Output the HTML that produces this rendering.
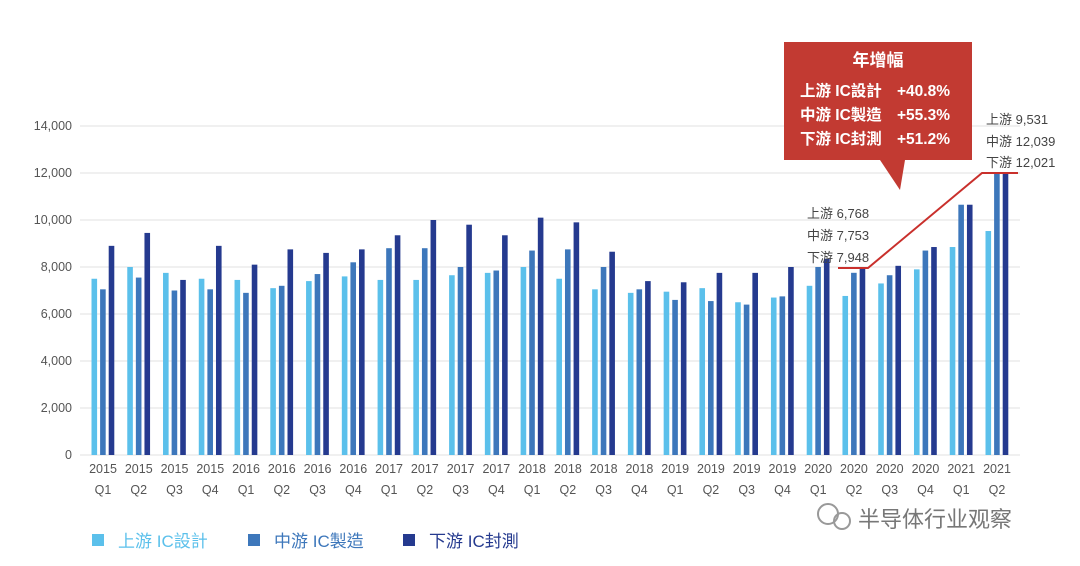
<!DOCTYPE html>
<html><head><meta charset="utf-8"><style>
body{margin:0;background:#fff;}
svg{display:block;font-family:"Liberation Sans","Noto Sans CJK TC",sans-serif;}
</style></head><body>
<svg width="1080" height="566" viewBox="0 0 1080 566">
<g id="grid" stroke="#e2e2e2" stroke-width="1"></g>
<g id="bars"></g>
<g id="labels" font-size="12.5" fill="#555"></g>
<polyline points="838,268 868,268 982,173 1018,173" fill="none" stroke="#c9302c" stroke-width="2"/>
<path d="M784,42 H972 V160 H905 L900,190 L880,160 H784 Z" fill="#c23a32"/>
<g fill="#fff" font-size="15.5" font-weight="bold">
<text x="878" y="66" text-anchor="middle" font-size="17">年增幅</text>
<text x="800" y="96">上游 IC設計</text><text x="897" y="96">+40.8%</text>
<text x="800" y="120">中游 IC製造</text><text x="897" y="120">+55.3%</text>
<text x="800" y="144">下游 IC封測</text><text x="897" y="144">+51.2%</text>
</g>
<g font-size="13" fill="#444">
<text x="807" y="218">上游 6,768</text>
<text x="807" y="240">中游 7,753</text>
<text x="807" y="262">下游 7,948</text>
<text x="986" y="124">上游 9,531</text>
<text x="986" y="146">中游 12,039</text>
<text x="986" y="167">下游 12,021</text>
</g>
<g font-size="17">
<rect x="92" y="534" width="12" height="12" fill="#5bc0eb"/><text x="118" y="547" fill="#5bc0eb">上游 IC設計</text>
<rect x="248" y="534" width="12" height="12" fill="#3d77bb"/><text x="274" y="547" fill="#3d77bb">中游 IC製造</text>
<rect x="403" y="534" width="12" height="12" fill="#253a8f"/><text x="429" y="547" fill="#253a8f">下游 IC封測</text>
</g>
<g><circle cx="828" cy="514" r="10" fill="none" stroke="#999" stroke-width="2"/><circle cx="842" cy="521" r="8" fill="none" stroke="#999" stroke-width="2"/>
<text x="858" y="527" font-size="22" fill="#777">半导体行业观察</text></g>
</svg>
<script>
const d=[[7500,7050,8900],[8000,7550,9450],[7750,7000,7450],[7500,7050,8900],[7450,6900,8100],[7100,7200,8750],[7400,7700,8600],[7600,8200,8750],[7450,8800,9350],[7450,8800,10000],[7650,8000,9800],[7750,7850,9350],[8000,8700,10100],[7500,8750,9900],[7050,8000,8650],[6900,7050,7400],[6950,6600,7350],[7100,6550,7750],[6500,6400,7750],[6700,6750,8000],[7200,8000,8350],[6768,7753,7948],[7300,7650,8050],[7900,8700,8850],[8850,10650,10650],[9531,12039,12021]];
const q=["2015 Q1","2015 Q2","2015 Q3","2015 Q4","2016 Q1","2016 Q2","2016 Q3","2016 Q4","2017 Q1","2017 Q2","2017 Q3","2017 Q4","2018 Q1","2018 Q2","2018 Q3","2018 Q4","2019 Q1","2019 Q2","2019 Q3","2019 Q4","2020 Q1","2020 Q2","2020 Q3","2020 Q4","2021 Q1","2021 Q2"];
const c=["#5bc0eb","#3d77bb","#253a8f"];const ns="http://www.w3.org/2000/svg";
function el(p,t,a,txt){const e=document.createElementNS(ns,t);for(const k in a)e.setAttribute(k,a[k]);if(txt)e.textContent=txt;document.getElementById(p).appendChild(e);}
const Y=v=>455-v*329/14000;
for(let i=0;i<=7;i++){const y=Y(i*2000);el("grid","line",{x1:80,x2:1020,y1:y,y2:y});el("labels","text",{x:72,y:y+4,"text-anchor":"end"},(i*2000).toLocaleString("en-US"));}
d.forEach((g,i)=>{const cx=103+i*35.76;g.forEach((v,j)=>{el("bars","rect",{x:cx-11.5+j*8.6,y:Y(v),width:5.6,height:455-Y(v),fill:c[j]});});
const [a,b]=q[i].split(" ");el("labels","text",{x:cx,y:473,"text-anchor":"middle"},a);el("labels","text",{x:cx,y:494,"text-anchor":"middle"},b);});
</script>
</body></html>
